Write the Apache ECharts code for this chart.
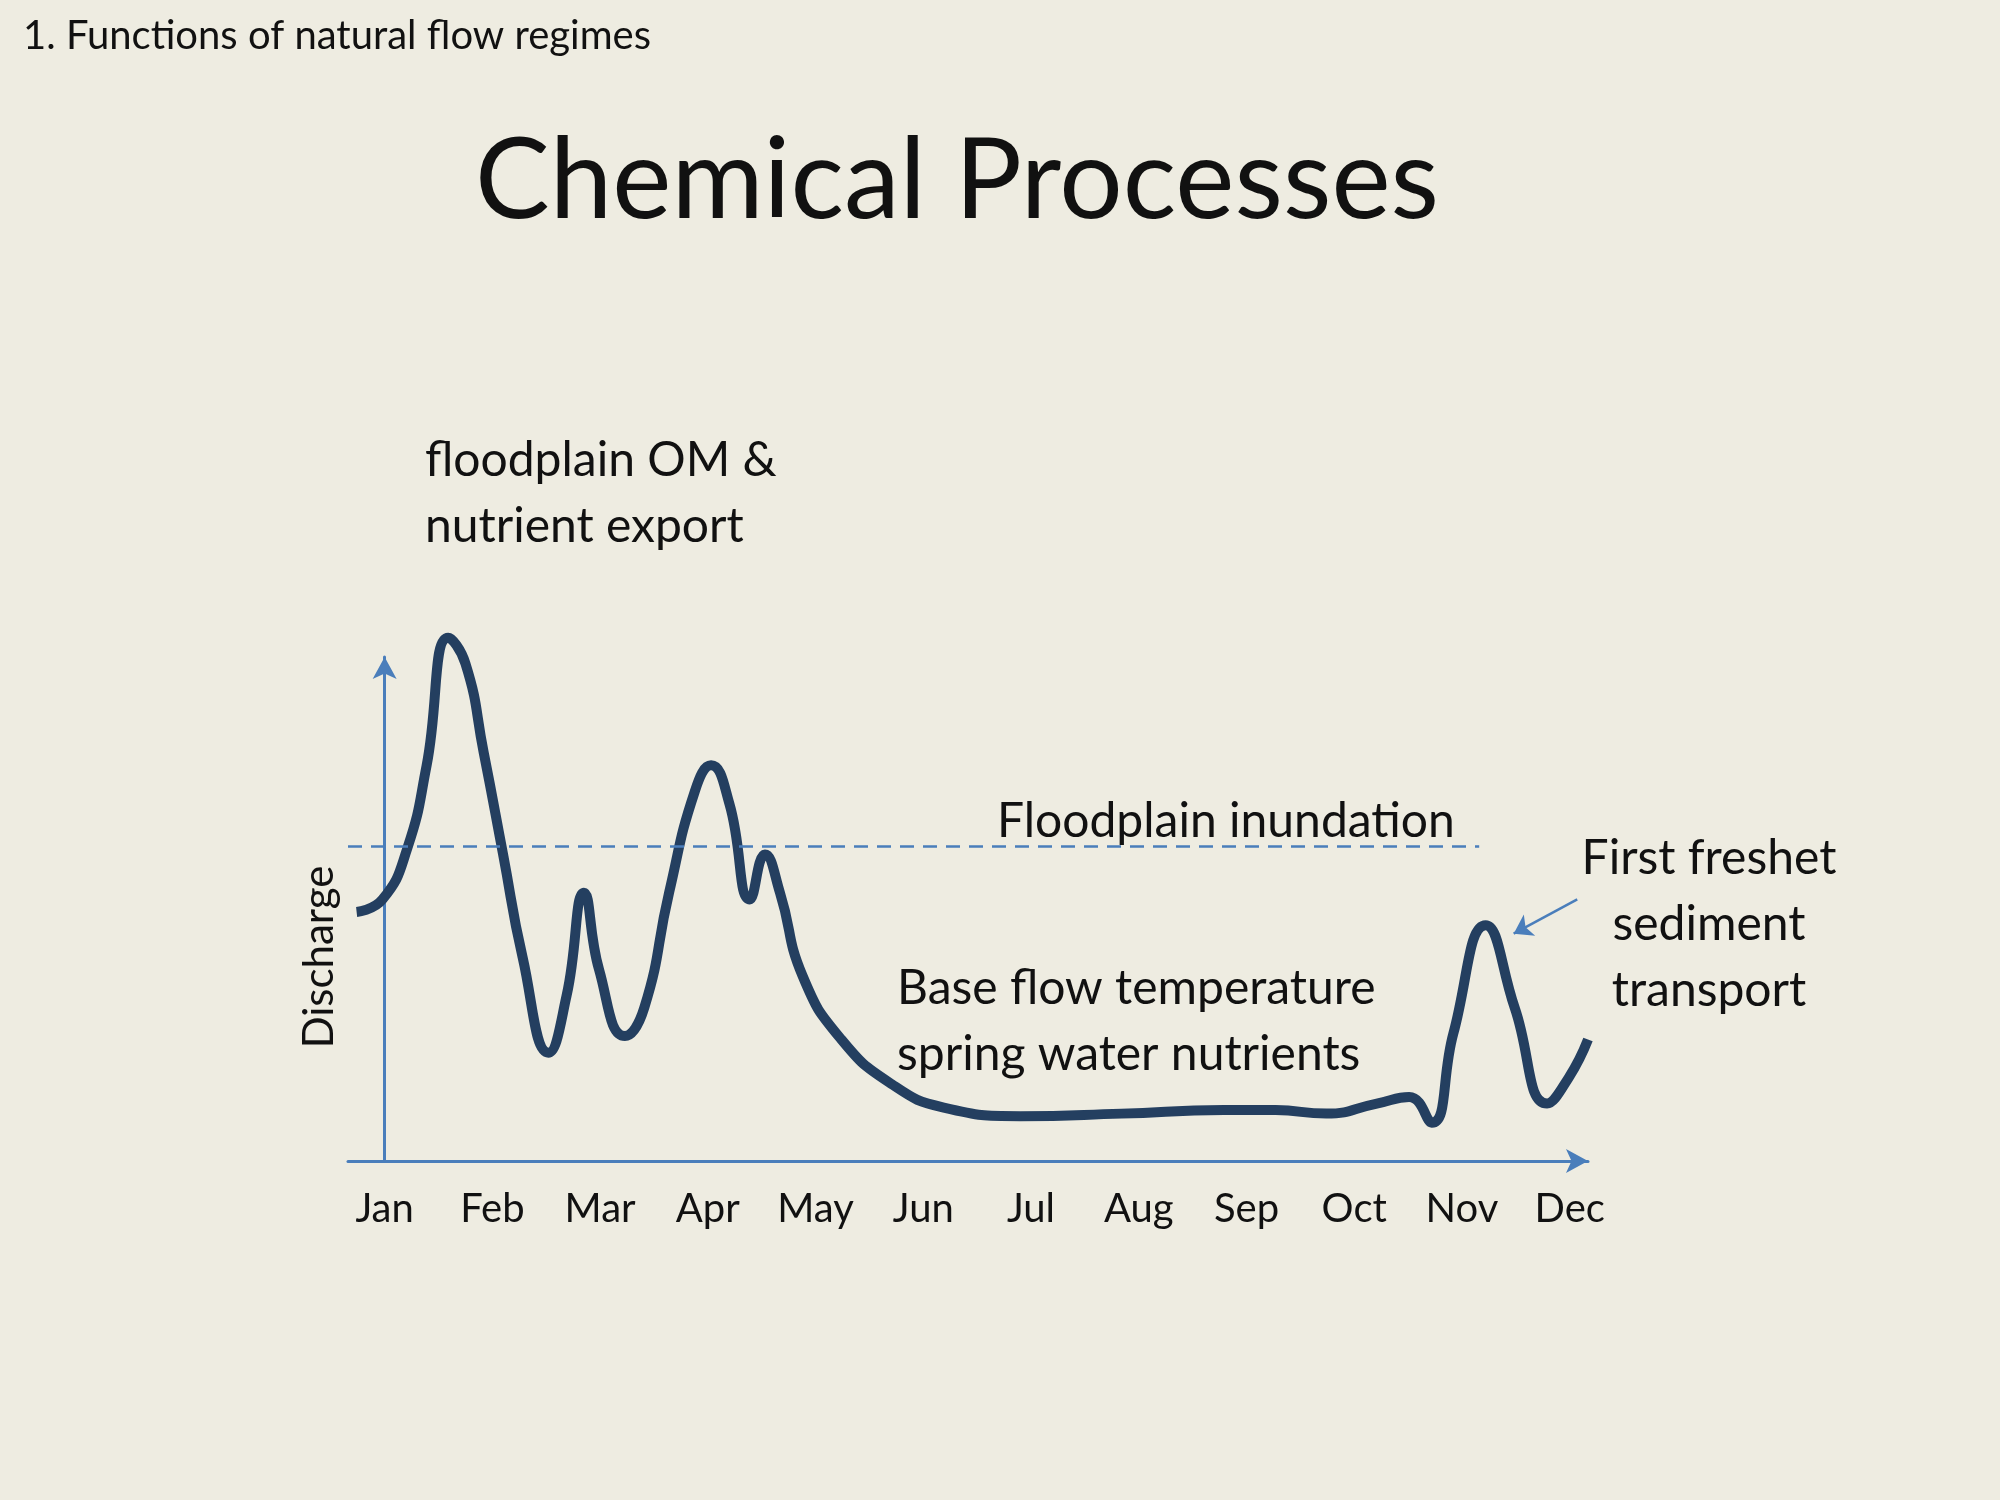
<!DOCTYPE html>
<html lang="en">
<head>
<meta charset="utf-8">
<title>Chemical Processes</title>
<script src="https://cdn.jsdelivr.net/npm/echarts@6/dist/echarts.min.js"></script>
<style>
    html, body, #main { width: 100%; height: 100%; margin: 0; background: #eeece1; }
</style>
</head>
<body>
<div id="main"></div>
<script>
// month labels, placed at month index 0..11
const months = ['Jan', 'Feb', 'Mar', 'Apr', 'May', 'Jun', 'Jul', 'Aug', 'Sep', 'Oct', 'Nov', 'Dec'];
// hydrograph: position in months and relative discharge
const monthPos = [-0.26, -0.02, 0.21, 0.39, 0.59, 0.75, 0.92, 1.10, 1.28, 1.52, 1.69, 1.85, 1.99, 2.23, 2.41,
    2.64, 2.88, 3.03, 3.20, 3.39, 3.53, 3.67, 3.88, 4.24, 4.71, 5.19, 5.90, 6.84, 7.79, 8.27, 8.74, 9.21, 9.51,
    9.72, 9.92, 10.22, 10.49, 10.79, 10.99, 11.17];
const discharge = [49.4, 51.9, 62.0, 78.5, 103.8, 98.7, 81.0, 60.8, 40.5, 21.5, 32.9, 53.2, 38.0, 24.8, 30.4,
    53.2, 73.4, 78.5, 70.9, 51.9, 60.8, 53.2, 36.7, 24.1, 15.2, 10.6, 8.9, 9.4, 10.1, 10.1, 9.4, 11.4, 12.7,
    7.6, 25.3, 46.8, 30.4, 11.4, 16.5, 24.1];
const inundationLevel = 62.5;

const font = 'Lato, "Open Sans", sans-serif';
const chart = echarts.init(document.getElementById('main'));

const arrowLine = (a, b) => [{ coord: a, symbol: 'none' }, { coord: b, symbol: 'arrow' }];

chart.setOption({
    backgroundColor: '#eeece1',
    animation: false,
    grid: { left: 348, right: 412, top: 657, bottom: 339 },
    xAxis: {
        type: 'value', min: -0.34, max: 11.17,
        axisLine: { lineStyle: { color: '#4a7ebb', width: 3 }, symbol: ['none', 'arrow'], symbolSize: [18, 22] },
        axisTick: { show: false },
        splitLine: { show: false },
        axisLabel: {
            customValues: months.map((m, i) => i),
            formatter: v => months[Math.round(v)],
            fontSize: 40, color: '#111', fontFamily: font, margin: 28
        }
    },
    yAxis: {
        type: 'value', min: 0, max: 100,
        axisLine: { show: true, lineStyle: { color: '#4a7ebb', width: 3 }, symbol: ['none', 'arrow'], symbolSize: [18, 22] },
        axisTick: { show: false }, axisLabel: { show: false }, splitLine: { show: false }
    },
    series: [{
        type: 'line',
        data: monthPos.map((x, i) => [x, discharge[i]]),
        smooth: 0.5,
        clip: false,
        showSymbol: false,
        lineStyle: { color: '#243f60', width: 10 },
        markLine: {
            silent: true,
            symbol: 'none',
            label: { show: false },
            data: [
                [{ coord: [-0.34, inundationLevel], lineStyle: { type: [14, 9], width: 2.5 } },
                 { coord: [10.16, inundationLevel] }],
                arrowLine([1.42, 119], [0.92, 92.4]),
                arrowLine([3.41, 117.7], [3.33, 77.2]),
                arrowLine([11.07, 51.9], [10.48, 45.1])
            ],
            lineStyle: { color: '#4a7ebb', width: 2.5, type: 'solid' },
            symbolSize: 18
        }
    }],
    graphic: [
        { type: 'text', left: 23, top: 16, style: { text: '1. Functions of natural flow regimes', font: '40px ' + font, fill: '#111' } },
        { type: 'text', x: 957, y: 182, style: { text: 'Chemical Processes', font: '112px ' + font, fill: '#111', align: 'center', verticalAlign: 'middle' } },
        { type: 'text', left: 425, top: 428, style: { text: 'floodplain OM &\nnutrient export', font: '48px ' + font, lineHeight: 66, fill: '#111' } },
        { type: 'text', left: 997, top: 798, style: { text: 'Floodplain inundation', font: '48px ' + font, fill: '#111' } },
        { type: 'text', left: 897, top: 956, style: { text: 'Base flow temperature\nspring water nutrients', font: '48px ' + font, lineHeight: 66, fill: '#111' } },
        { type: 'text', x: 1709, y: 826, style: { text: 'First freshet\nsediment\ntransport', font: '48px ' + font, lineHeight: 66, fill: '#111', align: 'center' } },
        { type: 'text', x: 319, y: 957, rotation: Math.PI / 2, style: { text: 'Discharge', font: '42px ' + font, fill: '#111', align: 'center', verticalAlign: 'middle' } }
    ]
});

window.onresize = function () { chart.resize(); };
</script>
</body>
</html>
